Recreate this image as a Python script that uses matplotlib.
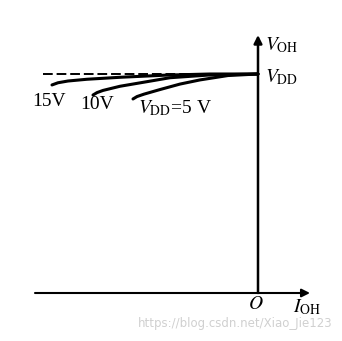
import matplotlib.pyplot as plt
import numpy as np

# V_OH vs I_OH curves for several supply voltages (I in arbitrary units, V as fraction of VDD)
i_15 = [-206, -200, -190, -171, -138, -91, -48, 0]
v_15 = [0.950, 0.960, 0.968, 0.976, 0.985, 0.995, 1.000, 1.000]
i_10 = [-165, -161, -155, -138, -111, -88, -50, 0]
v_10 = [0.904, 0.915, 0.925, 0.944, 0.965, 0.983, 0.995, 1.000]
i_5 = [-125, -121, -114, -98, -78, -58, -30, 0]
v_5 = [0.886, 0.897, 0.908, 0.929, 0.954, 0.973, 0.993, 1.000]
curve_labels = ['15V', '10V']

plt.rcParams['font.family'] = ['Liberation Serif', 'DejaVu Serif']
plt.rcParams['mathtext.fontset'] = 'stix'

fig = plt.figure(figsize=(3.42, 3.41), dpi=100)
ax = fig.add_axes([0, 0, 1, 1])
ax.set_xlim(-258, 84)
ax.set_ylim(-48 / 219, 293 / 219)
ax.axis('off')

# axes with arrows
ax.annotate('', xy=(0, 1.178), xytext=(0, 0),
            arrowprops=dict(arrowstyle='-|>', color='black', lw=1.8,
                            mutation_scale=12, shrinkA=0, shrinkB=0))
ax.annotate('', xy=(52, 0), xytext=(-223, 0),
            arrowprops=dict(arrowstyle='-|>', color='black', lw=1.5,
                            mutation_scale=12, shrinkA=0, shrinkB=0))

# VDD dashed reference
ax.plot([-215, 0], [1.0, 1.0], color='black', lw=1.4, ls=(0, (5, 2)))

for xs, ys in [(i_15, v_15), (i_10, v_10), (i_5, v_5)]:
    ax.plot(xs, ys, color='black', lw=2.2, solid_capstyle='round')

ax.text(-209, 0.873, curve_labels[0], fontsize=14, ha='center', va='center')
ax.text(-161, 0.859, curve_labels[1], fontsize=14, ha='center', va='center')
ax.text(-83, 0.845, r'$V_{\mathrm{DD}}$=5 V', fontsize=14, ha='center', va='center')

ax.text(7, 1.130, r'$V_{\mathrm{OH}}$', fontsize=14, ha='left', va='center')
ax.text(7, 0.985, r'$V_{\mathrm{DD}}$', fontsize=14, ha='left', va='center')
ax.text(-2, -0.052, r'$O$', fontsize=14, ha='center', va='center')
ax.text(35, -0.065, r'$I_{\mathrm{OH}}$', fontsize=14, ha='left', va='center')

ax.text(75, -0.137, 'https://blog.csdn.net/Xiao_Jie123', fontsize=8.5,
        ha='right', va='center', color='#d0d0d0', family='DejaVu Sans')

fig.savefig('out.png', dpi=100)
